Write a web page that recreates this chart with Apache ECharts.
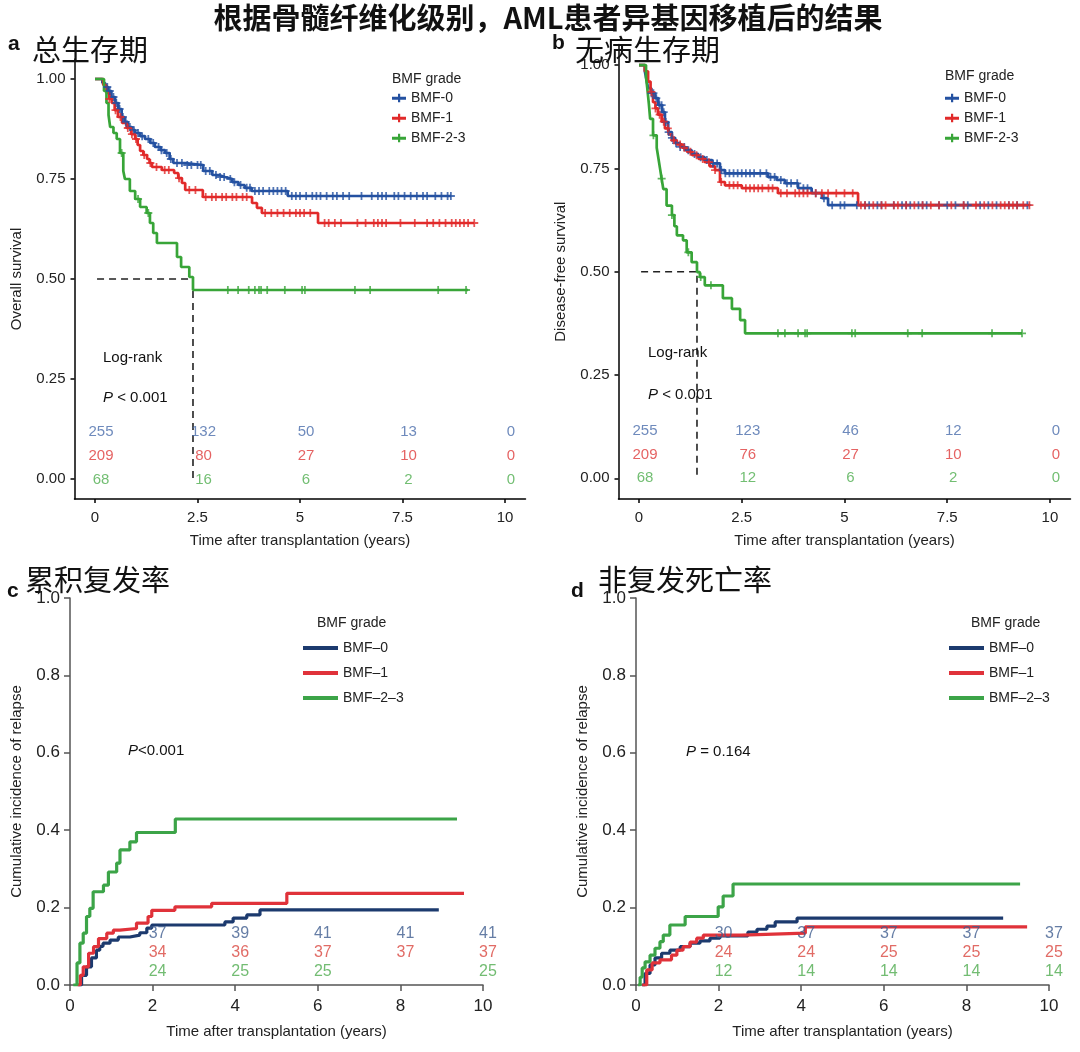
<!DOCTYPE html>
<html><head><meta charset="utf-8">
<script src="https://cdn.jsdelivr.net/npm/echarts@6/dist/echarts.min.js"></script>
<style>html,body{margin:0;padding:0;background:#fff}#c{width:1080px;height:1052px}</style>
</head><body><div id="c"></div>
<script>
// ---------------- DATA ----------------
const groupsAB = ['BMF-0', 'BMF-1', 'BMF-2-3'];
const groupsCD = ['BMF\u20130', 'BMF\u20131', 'BMF\u20132\u20133'];
const xTicksAB = [0, 2.5, 5, 7.5, 10];
const yTicksAB = [0, 0.25, 0.5, 0.75, 1];
const riskTimesAB = [0, 2.5, 5, 7.5, 10];
const riskTimesCD = [2, 4, 6, 8, 10];

// a: overall survival, [time, survival]
const osBMF0 = [[0,1],[0.18,0.99],[0.25,0.98],[0.32,0.97],[0.4,0.955],[0.49,0.94],[0.57,0.925],[0.65,0.905],[0.72,0.893],[0.8,0.88],[0.9,0.872],[0.98,0.865],[1.1,0.857],[1.22,0.85],[1.35,0.84],[1.46,0.83],[1.6,0.822],[1.71,0.815],[1.82,0.8],[1.91,0.79],[2.2,0.785],[2.64,0.77],[2.86,0.76],[3.02,0.755],[3.17,0.75],[3.35,0.742],[3.5,0.735],[3.65,0.728],[3.82,0.72],[4.7,0.7075],[8.68,0.7075]];
const osBMF1 = [[0,1],[0.2,0.985],[0.28,0.965],[0.35,0.95],[0.41,0.94],[0.48,0.922],[0.56,0.905],[0.66,0.89],[0.77,0.8775],[0.88,0.862],[0.98,0.85],[1.04,0.835],[1.1,0.82],[1.18,0.81],[1.27,0.8],[1.33,0.79],[1.39,0.78],[1.63,0.7725],[1.93,0.765],[2.03,0.752],[2.12,0.74],[2.2,0.7225],[2.63,0.705],[3.83,0.69],[3.95,0.678],[4.07,0.665],[5.44,0.64],[9.25,0.64]];
const osBMF23 = [[0,1],[0.22,0.97],[0.28,0.94],[0.33,0.91],[0.37,0.88],[0.45,0.865],[0.53,0.85],[0.61,0.815],[0.69,0.77],[0.73,0.75],[0.85,0.72],[0.98,0.7],[1.1,0.68],[1.26,0.665],[1.34,0.64],[1.42,0.615],[1.51,0.59],[2.0,0.555],[2.1,0.53],[2.3,0.505],[2.39,0.4725],[9.1,0.4725]];
const osCens0 = [0.3,0.36,0.45,0.52,0.6,0.68,0.75,0.85,0.95,1.05,1.15,1.3,1.42,1.55,1.62,1.75,1.85,2.0,2.12,2.25,2.35,2.5,2.58,2.7,2.8,2.95,3.05,3.15,3.3,3.4,3.55,3.7,3.78,3.9,4.0,4.1,4.25,4.35,4.45,4.55,4.65,4.8,4.9,5.0,5.15,5.3,5.4,5.5,5.65,5.8,5.9,6.05,6.2,6.5,6.75,6.9,7.0,7.1,7.3,7.4,7.55,7.7,7.85,8.0,8.1,8.3,8.45,8.6,8.68];
const osCens1 = [0.35,0.5,0.62,0.8,0.9,1.0,1.2,1.35,1.5,1.7,1.8,2.05,2.3,2.45,2.7,2.85,2.95,3.1,3.2,3.35,3.45,3.6,3.7,4.15,4.3,4.45,4.6,4.75,4.9,5.0,5.1,5.25,5.6,5.7,5.85,6.0,6.4,6.6,6.8,6.9,7.0,7.1,7.45,7.8,8.1,8.25,8.4,8.55,8.7,8.8,8.9,9.0,9.1,9.25];
const osCens23 = [0.65,1.05,1.3,3.24,3.49,3.75,3.9,4.0,4.05,4.2,4.63,5.05,5.12,6.34,6.71,8.37,9.05];
const osMedian23 = 2.39;
const riskOS0 = [255,132,50,13,0];
const riskOS1 = [209,80,27,10,0];
const riskOS23 = [68,16,6,2,0];

// b: disease-free survival
const dfsBMF0 = [[0,1],[0.14,0.985],[0.18,0.965],[0.22,0.944],[0.3,0.932],[0.39,0.92],[0.47,0.903],[0.56,0.886],[0.63,0.862],[0.71,0.838],[0.8,0.824],[0.88,0.811],[1.0,0.802],[1.12,0.794],[1.28,0.785],[1.44,0.777],[1.6,0.77],[1.78,0.762],[1.97,0.746],[2.09,0.738],[3.14,0.729],[3.35,0.722],[3.55,0.714],[3.87,0.702],[4.2,0.69],[4.45,0.678],[4.6,0.661],[9.46,0.661]];
const dfsBMF1 = [[0,1],[0.14,0.985],[0.22,0.96],[0.28,0.935],[0.34,0.91],[0.4,0.895],[0.46,0.88],[0.55,0.863],[0.63,0.847],[0.72,0.832],[0.8,0.818],[0.92,0.808],[1.05,0.8],[1.17,0.79],[1.29,0.782],[1.45,0.773],[1.6,0.765],[1.72,0.755],[1.85,0.746],[1.97,0.717],[2.09,0.709],[2.5,0.702],[3.38,0.69],[5.33,0.661],[9.51,0.661]];
const dfsBMF23 = [[0,1],[0.17,0.97],[0.2,0.944],[0.24,0.905],[0.27,0.87],[0.34,0.83],[0.43,0.8],[0.47,0.775],[0.51,0.75],[0.55,0.725],[0.59,0.7],[0.67,0.66],[0.8,0.637],[0.86,0.61],[0.92,0.588],[1.07,0.576],[1.16,0.547],[1.28,0.523],[1.41,0.499],[1.48,0.487],[1.6,0.467],[2.04,0.436],[2.26,0.41],[2.46,0.383],[2.58,0.351],[9.32,0.351]];
const dfsCens0 = [0.3,0.35,0.42,0.5,0.55,0.6,0.65,0.72,0.8,0.9,1.0,1.1,1.2,1.35,1.5,1.65,1.8,1.9,2.0,2.1,2.2,2.3,2.4,2.5,2.6,2.7,2.8,2.95,3.1,3.2,3.3,3.45,3.6,3.7,3.85,4.0,4.1,4.3,4.5,4.7,4.9,5.0,5.3,5.5,5.6,5.8,5.9,6.2,6.4,6.5,6.6,6.8,6.9,7.0,7.3,7.5,7.7,7.9,8.0,8.3,8.5,8.7,9.0,9.2,9.45];
const dfsCens1 = [0.3,0.4,0.5,0.6,0.7,0.85,1.0,1.1,1.25,1.4,1.55,1.7,1.85,2.0,2.2,2.3,2.4,2.6,2.7,2.8,2.9,3.0,3.15,3.25,3.45,3.6,3.8,3.9,4.0,4.1,4.3,4.45,4.6,4.8,5.0,5.2,5.4,5.5,5.7,5.9,6.0,6.2,6.3,6.5,6.7,6.9,7.1,7.3,7.6,7.9,8.2,8.4,8.6,8.8,8.9,9.0,9.1,9.2,9.35,9.5];
const dfsCens23 = [0.35,0.55,0.8,1.2,1.5,1.75,3.38,3.55,3.87,4.04,4.09,5.18,5.26,6.54,6.89,8.59,9.32];
const dfsMedian23 = 1.41;
const riskDFS0 = [255,123,46,12,0];
const riskDFS1 = [209,76,27,10,0];
const riskDFS23 = [68,12,6,2,0];

// c: cumulative incidence of relapse
const cirBMF0 = [[0.2,0],[0.28,0.025],[0.4,0.047],[0.52,0.07],[0.64,0.09],[0.72,0.1],[0.8,0.108],[0.97,0.116],[1.17,0.124],[1.45,0.129],[1.69,0.135],[1.86,0.147],[1.98,0.155],[3.75,0.163],[3.95,0.173],[4.28,0.181],[4.6,0.194],[8.93,0.194]];
const cirBMF1 = [[0.17,0],[0.25,0.025],[0.32,0.047],[0.45,0.082],[0.57,0.099],[0.69,0.12],[0.89,0.134],[1.05,0.142],[1.21,0.146],[1.61,0.16],[1.89,0.177],[1.98,0.193],[2.54,0.202],[3.43,0.211],[5.25,0.237],[9.54,0.237]];
const cirBMF23 = [[0.08,0],[0.17,0.057],[0.24,0.108],[0.32,0.134],[0.4,0.177],[0.48,0.198],[0.56,0.241],[0.81,0.258],[0.93,0.292],[1.13,0.315],[1.21,0.349],[1.45,0.37],[1.61,0.394],[2.55,0.429],[9.37,0.429]];
const riskCIR0 = [37,39,41,41,41];
const riskCIR1 = [34,36,37,37,37];
const riskCIR23 = [24,25,25,null,25];

// d: non-relapse mortality
const nrmBMF0 = [[0.15,0],[0.22,0.03],[0.34,0.052],[0.46,0.07],[0.62,0.082],[0.82,0.09],[1.07,0.099],[1.31,0.108],[1.55,0.114],[1.79,0.121],[2.03,0.127],[2.71,0.137],[2.93,0.144],[3.17,0.152],[3.37,0.163],[3.9,0.173],[8.89,0.173]];
const nrmBMF1 = [[0.15,0],[0.26,0.039],[0.39,0.057],[0.58,0.065],[0.86,0.077],[0.99,0.09],[1.14,0.099],[1.31,0.111],[1.47,0.121],[1.63,0.129],[2.56,0.134],[4.1,0.15],[9.47,0.15]];
const nrmBMF23 = [[0.05,0],[0.1,0.02],[0.15,0.044],[0.22,0.06],[0.34,0.077],[0.46,0.095],[0.58,0.112],[0.66,0.129],[0.82,0.155],[1.19,0.177],[1.99,0.202],[2.11,0.23],[2.35,0.261],[9.3,0.261]];
const riskNRM0 = [30,37,37,37,37];
const riskNRM1 = [24,24,25,25,25];
const riskNRM23 = [12,14,14,14,14];

// ---------------- STYLE ----------------
const FONT = '"Liberation Sans", Arial, Helvetica, sans-serif';
const CJK = '"Noto Sans CJK SC", "Noto Sans CJK JP", sans-serif';
const lineAB = ['#2451a1', '#e12a2a', '#38a538'];
const numAB = ['#4a6dab', '#de3b3b', '#4fae4f'];
const lineCD = ['#1c3a6e', '#e0323a', '#3ca448'];
const numCD = ['#3f5d8e', '#da463f', '#4fab4f'];
const PLUS = 'path://M3.9,0H6.1V10H3.9Z M0,3.9H10V6.1H0Z';
const LEG_AB = 'path://M0,4H14V7H0Z M6,1H8.2V9.5H6Z';

function stepAt(curve, t) {
  let v = curve[0][1];
  for (const p of curve) { if (p[0] <= t) v = p[1]; else break; }
  return v;
}

const grids = [
  {left: 74.5, top: 59, width: 451, height: 440},
  {left: 618.5, top: 44.4, width: 452, height: 454.6},
  {left: 70, top: 598, width: 413, height: 387},
  {left: 636, top: 598, width: 413, height: 387}
];

const axisText = {color: '#222', fontSize: 15, fontFamily: FONT};

function kmX(gi) {
  return {gridIndex: gi, type: 'value', min: -0.5, max: 10.5,
    axisLine: {show: true, onZero: false, lineStyle: {color: '#000', width: 1.5}},
    axisTick: {show: true, customValues: xTicksAB, length: 4, lineStyle: {color: '#000', width: 1.5}},
    axisLabel: Object.assign({customValues: xTicksAB, margin: 11, formatter: v => String(v)}, axisText),
    splitLine: {show: false},
    name: 'Time after transplantation (years)', nameLocation: 'middle', nameGap: 34,
    nameTextStyle: {color: '#222', fontSize: 15, fontFamily: FONT}};
}
function kmY(gi, name) {
  return {gridIndex: gi, type: 'value', min: -0.05, max: 1.05,
    axisLine: {show: true, onZero: false, lineStyle: {color: '#000', width: 1.5}},
    axisTick: {show: true, customValues: yTicksAB, length: 4, lineStyle: {color: '#000', width: 1.5}},
    axisLabel: Object.assign({customValues: yTicksAB, margin: 9, formatter: v => v.toFixed(2)}, axisText),
    splitLine: {show: false},
    name: name, nameLocation: 'middle', nameGap: 50,
    nameTextStyle: {color: '#222', fontSize: 15, fontFamily: FONT}};
}
function ciX(gi) {
  return {gridIndex: gi, type: 'value', min: 0, max: 10, interval: 2,
    axisLine: {show: true, onZero: false, lineStyle: {color: '#555', width: 1.5}},
    axisTick: {show: true, length: 6, lineStyle: {color: '#555', width: 1.5}},
    axisLabel: {margin: 13, color: '#222', fontSize: 17, fontFamily: FONT},
    splitLine: {show: false},
    name: 'Time after transplantation (years)', nameLocation: 'middle', nameGap: 39,
    nameTextStyle: {color: '#222', fontSize: 15, fontFamily: FONT}};
}
function ciY(gi) {
  return {gridIndex: gi, type: 'value', min: 0, max: 1, interval: 0.2,
    axisLine: {show: true, onZero: false, lineStyle: {color: '#555', width: 1.5}},
    axisTick: {show: true, length: 6, lineStyle: {color: '#555', width: 1.5}},
    axisLabel: {margin: 10, color: '#222', fontSize: 17, fontFamily: FONT, formatter: v => v.toFixed(1)},
    splitLine: {show: false},
    name: 'Cumulative incidence of relapse', nameLocation: 'middle', nameGap: 46,
    nameTextStyle: {color: '#222', fontSize: 15, fontFamily: FONT}};
}

const series = [];
function addCurve(gi, name, curve, color, width) {
  series.push({type: 'line', name: name, xAxisIndex: gi, yAxisIndex: gi, step: 'end',
    data: curve, showSymbol: false, symbol: 'none', z: 3, silent: true,
    lineStyle: {color: color, width: width}, itemStyle: {color: color}});
}
function addCensors(gi, curve, times, color) {
  series.push({type: 'scatter', name: 'censor', xAxisIndex: gi, yAxisIndex: gi,
    data: times.map(t => [t, stepAt(curve, t)]), symbol: PLUS, symbolSize: 8, z: 4, silent: true,
    itemStyle: {color: color}});
}
function addRisk(gi, times, counts, rowY, color, size, dx) {
  const d = [];
  times.forEach((t, i) => { if (counts[i] !== null) d.push([t, rowY, counts[i]]); });
  series.push({type: 'scatter', name: 'risk', xAxisIndex: gi, yAxisIndex: gi, data: d,
    symbolSize: 0, silent: true, z: 5,
    label: {show: true, position: 'inside', offset: [dx, 0], formatter: p => String(p.value[2]),
      color: color, fontSize: size, fontFamily: FONT}});
}
function addMedian(gi, t) {
  series.push({type: 'line', name: 'median', xAxisIndex: gi, yAxisIndex: gi,
    data: [[0.05, 0.5], [t, 0.5], [t, 0]], showSymbol: false, symbol: 'none', z: 2, silent: true,
    lineStyle: {color: '#222', width: 1.6, type: [7, 5]}});
}

// panel a
addMedian(0, osMedian23);
[[osBMF0, osCens0], [osBMF1, osCens1], [osBMF23, osCens23]].forEach((c, i) => {
  addCurve(0, groupsAB[i], c[0], lineAB[i], 2.7);
  addCensors(0, c[0], c[1], lineAB[i]);
});
[riskOS0, riskOS1, riskOS23].forEach((r, i) => addRisk(0, riskTimesAB, r, [0.118, 0.058, -0.002][i], numAB[i], 15, 6));
// panel b
addMedian(1, dfsMedian23);
[[dfsBMF0, dfsCens0], [dfsBMF1, dfsCens1], [dfsBMF23, dfsCens23]].forEach((c, i) => {
  addCurve(1, groupsAB[i], c[0], lineAB[i], 2.7);
  addCensors(1, c[0], c[1], lineAB[i]);
});
[riskDFS0, riskDFS1, riskDFS23].forEach((r, i) => addRisk(1, riskTimesAB, r, [0.115, 0.057, 0.0][i], numAB[i], 15, 6));
// panel c
[cirBMF0, cirBMF1, cirBMF23].forEach((c, i) => addCurve(2, groupsCD[i], c, lineCD[i], 3.2));
[riskCIR0, riskCIR1, riskCIR23].forEach((r, i) => addRisk(2, riskTimesCD, r, [0.134, 0.083, 0.034][i], numCD[i], 16, 5));
// panel d
[nrmBMF0, nrmBMF1, nrmBMF23].forEach((c, i) => addCurve(3, groupsCD[i], c, lineCD[i], 3.2));
[riskNRM0, riskNRM1, riskNRM23].forEach((r, i) => addRisk(3, riskTimesCD, r, [0.134, 0.083, 0.034][i], numCD[i], 16, 5));

function legend(left, top, names, icon, w, h, gap) {
  return {orient: 'vertical', left: left, top: top, padding: 0, data: names, icon: icon,
    itemWidth: w, itemHeight: h, itemGap: gap, selectedMode: false,
    itemStyle: {borderWidth: 0},
    textStyle: {color: '#222', fontSize: 14, fontFamily: FONT, lineHeight: 16}};
}

function txt(x, y, text, size, opts) {
  return {type: 'text', x: x, y: y, z: 100, silent: true,
    style: Object.assign({text: text, fontSize: size, fontFamily: FONT, fill: '#111',
      textAlign: 'left', textVerticalAlign: 'middle', align: 'left', verticalAlign: 'middle'}, opts || {})};
}
const rich = {i: {fontStyle: 'italic', fontSize: 15, fontFamily: FONT, fill: '#111'}};

const graphic = [
  txt(548, 18, '根据骨髓纤维化级别，AML患者异基因移植后的结果', 29, {fontFamily: CJK, fontWeight: 'bold', textAlign: 'center', align: 'center'}),
  txt(8, 44, 'a', 21, {fontWeight: 'bold'}),
  txt(32, 50, '总生存期', 29, {fontFamily: CJK}),
  txt(552, 43, 'b', 21, {fontWeight: 'bold'}),
  txt(575, 50, '无病生存期', 29, {fontFamily: CJK}),
  txt(7, 591, 'c', 21, {fontWeight: 'bold'}),
  txt(25, 580, '累积复发率', 29, {fontFamily: CJK}),
  txt(571, 591, 'd', 21, {fontWeight: 'bold'}),
  txt(598, 580, '非复发死亡率', 29, {fontFamily: CJK}),
  txt(392, 79, 'BMF grade', 14, {fill: '#222'}),
  txt(945, 76, 'BMF grade', 14, {fill: '#222'}),
  txt(317, 623, 'BMF grade', 14, {fill: '#222'}),
  txt(971, 623, 'BMF grade', 14, {fill: '#222'}),
  txt(103, 358, 'Log-rank', 15),
  txt(103, 398, '{i|P} < 0.001', 15, {rich: rich}),
  txt(648, 353, 'Log-rank', 15),
  txt(648, 395, '{i|P} < 0.001', 15, {rich: rich}),
  txt(128, 751, '{i|P}<0.001', 15, {rich: rich}),
  txt(686, 752, '{i|P} = 0.164', 15, {rich: rich})
];

const option = {
  animation: false,
  backgroundColor: '#fff',
  grid: grids,
  xAxis: [kmX(0), kmX(1), ciX(2), ciX(3)],
  yAxis: [kmY(0, 'Overall survival'), kmY(1, 'Disease-free survival'), ciY(2), ciY(3)],
  legend: [
    legend(392, 90, groupsAB, LEG_AB, 14, 9, 4),
    legend(945, 90, groupsAB, LEG_AB, 14, 9, 4),
    legend(303, 640, groupsCD, 'rect', 35, 4, 9),
    legend(949, 640, groupsCD, 'rect', 35, 4, 9)
  ],
  graphic: graphic,
  series: series
};
const chart = echarts.init(document.getElementById('c'), null, {renderer: 'canvas'});
chart.setOption(option);
</script></body></html>
